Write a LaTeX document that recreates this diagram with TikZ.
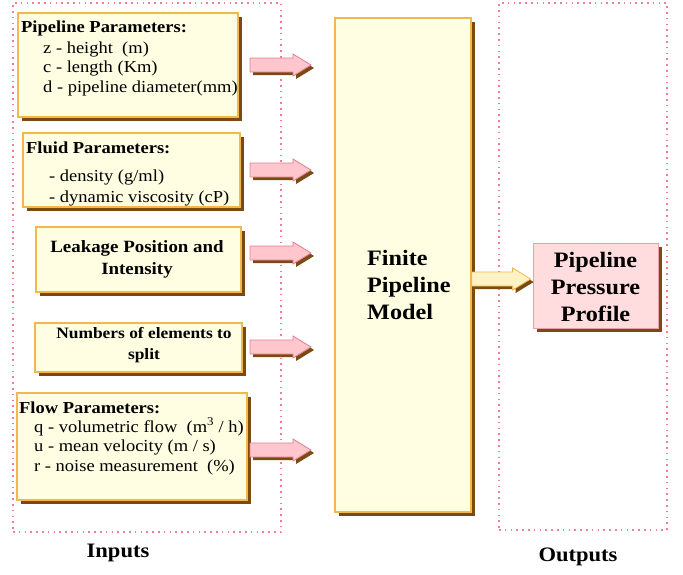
\documentclass[tikz,border=0pt]{standalone}
\usepackage{fontspec}
\setmainfont[FakeStretch=1.1]{Liberation Serif}
\usetikzlibrary{shadows}
\definecolor{boxfill}{HTML}{FFFDE2}
\definecolor{boxedge}{HTML}{F2B84B}
\definecolor{shadowc}{HTML}{7A4A12}
\definecolor{pinkfill}{HTML}{FFDCDE}
\definecolor{pinkedge}{HTML}{E8A0A8}
\definecolor{arrfill}{HTML}{FFC6CE}
\definecolor{arredge}{HTML}{E0808F}
\definecolor{yarrfill}{HTML}{FFF3C4}
\definecolor{dashc}{HTML}{EE8090}
\newcommand\myarrow[4]{% coordinate, fill, edge, shaft length
  \fill[shadowc] ([shift={(3,-4)}]#1) -- ++(#4,0) -- ++(0,-4) -- ++(18,11) -- ++(-18,11) -- ++(0,-4) -- ++(-#4,0) -- cycle;
  \filldraw[fill=#2, draw=#3, line width=0.8pt] ([shift={(0,-7)}]#1) -- ++(#4,0) -- ++(0,-4) -- ++(18,11) -- ++(-18,11) -- ++(0,-4) -- ++(-#4,0) -- cycle;
}
\begin{document}
\begin{tikzpicture}[x=1pt,y=-1pt,
  ybox/.style={draw=boxedge, fill=boxfill, line width=1.2pt, inner sep=0pt,
    drop shadow={shadow xshift=4pt, shadow yshift=-4pt, fill=shadowc, opacity=1}},
  pbox/.style={draw=pinkedge, fill=pinkfill, line width=1pt, inner sep=0pt,
    drop shadow={shadow xshift=4pt, shadow yshift=-4pt, fill=shadowc, opacity=1}},
  zone/.style={draw=dashc, line width=1.2pt, dash pattern=on 1.6pt off 4.2pt},
  head/.style={anchor=west, inner sep=0pt, font=\bfseries\fontsize{16.8}{19}\selectfont},
  txt/.style={anchor=west, inner sep=0pt, font=\fontsize{16.8}{19}\selectfont},
  ctxt/.style={align=center, inner sep=0pt, font=\bfseries\fontsize{17.2}{22}\selectfont},
  ctxts/.style={align=center, inner sep=0pt, font=\bfseries\fontsize{15.8}{21}\selectfont},
  big/.style={inner sep=0pt, font=\bfseries\fontsize{22}{27}\selectfont},
  zlab/.style={inner sep=0pt, font=\bfseries\fontsize{20.5}{25}\selectfont}
]
\useasboundingbox (0,0) rectangle (683,574);
% zones
\node[zone, minimum width=268pt, minimum height=529pt, inner sep=0pt] (inzone) at (147,267.5) {};
\node[zone, minimum width=168pt, minimum height=527pt, inner sep=0pt] (outzone) at (583,266.5) {};
\node[zlab] (inlab) at (118,553) {Inputs};
\node[zlab] (outlab) at (578,557) {Outputs};
% input boxes
\node[ybox, minimum width=220pt, minimum height=104pt] (pp) at (128,65) {};
\node[ybox, minimum width=217pt, minimum height=74pt] (fp) at (131.5,170) {};
\node[ybox, minimum width=205pt, minimum height=65pt] (lk) at (138.5,259.5) {};
\node[ybox, minimum width=207pt, minimum height=49pt] (ne) at (138.5,347.5) {};
\node[ybox, minimum width=230pt, minimum height=107pt] (fl) at (132,446.5) {};
% texts
\node[head] (pp0) at (21,28) {Pipeline Parameters:};
\node[txt] (pp1) at (43,49) {z - height\ \ (m)};
\node[txt] (pp2) at (43,68) {c - length (Km)};
\node[txt] (pp3) at (43,88) {d - pipeline diameter(mm)};
\node[head] (fp0) at (26,148) {Fluid Parameters:};
\node[txt] (fp1) at (49,177) {- density (g/ml)};
\node[txt] (fp2) at (49,198) {- dynamic viscosity (cP)};
\node[ctxt] (lkt) at (137,259) {Leakage Position and\\Intensity};
\node[ctxts] (net) at (144,345) {Numbers of elements to\\split};
\node[head] (fl0) at (19,408) {Flow Parameters:};
\node[txt] (fl1) at (34,427) {q - volumetric flow\ \ (m\textsuperscript{3} / h)};
\node[txt] (fl2) at (34,447) {u - mean velocity (m / s)};
\node[txt] (fl3) at (34,467) {r - noise measurement\ \ (\%)};
% model and output
\node[ybox, minimum width=136pt, minimum height=494pt] (model) at (403,265) {};
\node[big, anchor=west, align=left] (modelt) at (367,285) {Finite\\Pipeline\\Model};
\node[pbox, minimum width=125pt, minimum height=85pt] (prof) at (595.5,285.5) {};
\node[big, align=center] (proft) at (595.5,287) {Pipeline\\Pressure\\Profile};
% arrows
\coordinate (a1) at (250,65);
\coordinate (a2) at (250,170);
\coordinate (a3) at (250,253);
\coordinate (a4) at (250,347);
\coordinate (a5) at (250,450);
\coordinate (a6) at (model.east |- 0,279);
\myarrow{a1}{arrfill}{arredge}{43}
\myarrow{a2}{arrfill}{arredge}{43}
\myarrow{a3}{arrfill}{arredge}{43}
\myarrow{a4}{arrfill}{arredge}{43}
\myarrow{a5}{arrfill}{arredge}{43}
\myarrow{a6}{yarrfill}{boxedge}{41}
\end{tikzpicture}
\end{document}
